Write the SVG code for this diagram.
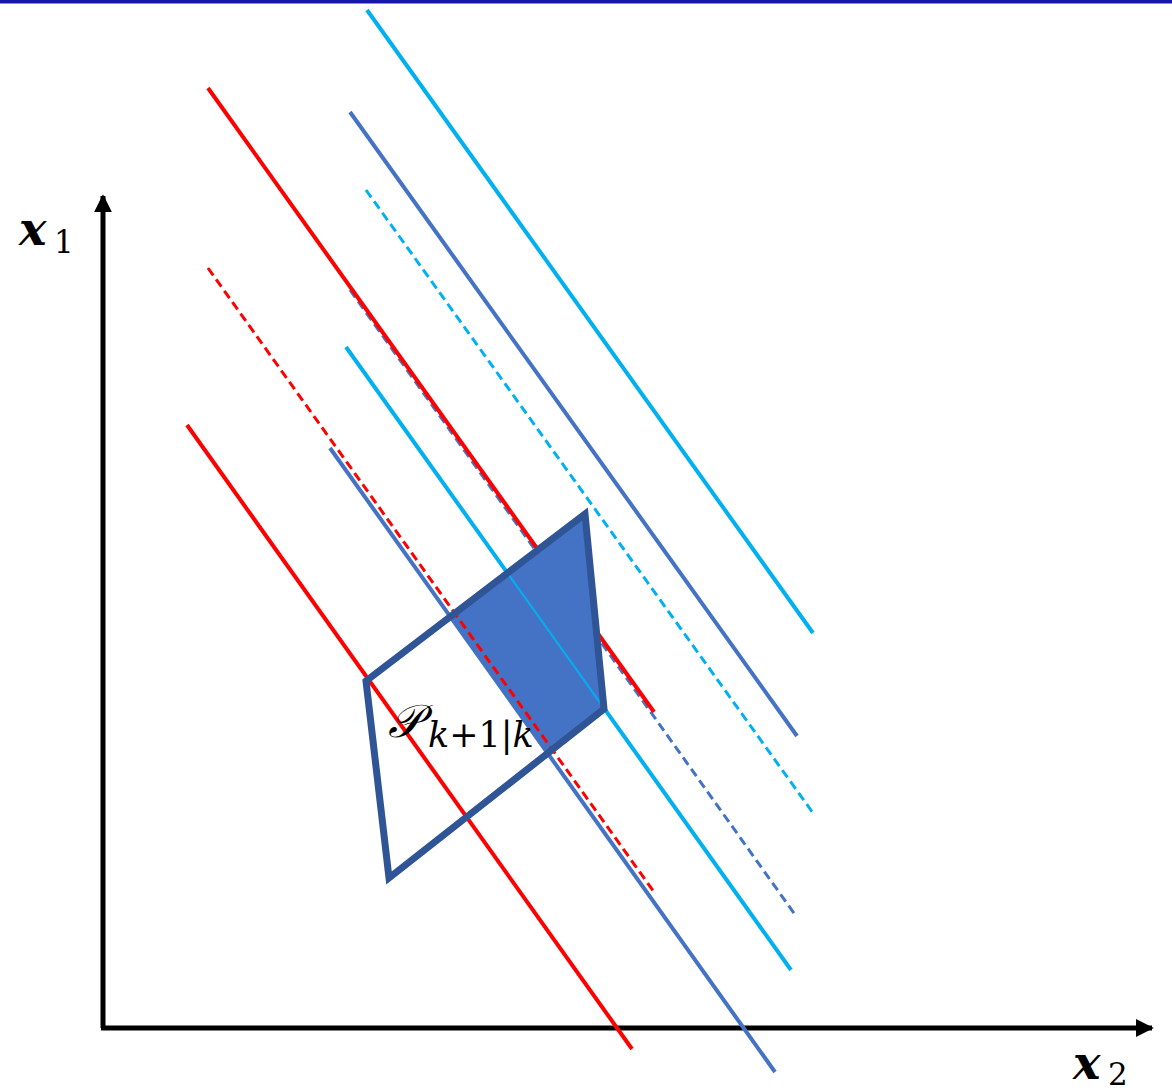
<svg xmlns="http://www.w3.org/2000/svg" width="1172" height="1090" viewBox="0 0 1172 1090">
<defs>
<style>
.ln{fill:none;stroke-width:4;stroke-linecap:butt}
.cy{stroke:#00B0F0}
.bl{stroke:#4472C4}
.rd{stroke:#FF0000}
.ds{stroke-width:3;stroke-dasharray:9 5}
.ax{fill:none;stroke:#000;stroke-width:5}
.m{font-family:"DejaVu Serif","Liberation Serif",serif;fill:#000}
</style>
<marker id="arr" viewBox="0 0 10 10" refX="9" refY="5" markerWidth="3.6" markerHeight="3.6" orient="auto" markerUnits="strokeWidth">
<path d="M0,0 L10,5 L0,10 z" fill="#000"/>
</marker>
</defs>
<rect width="1172" height="1090" fill="#fff"/>
<rect x="0" y="0" width="1172" height="3" fill="#1616A8"/>
<rect x="0" y="3" width="1172" height="1" fill="#8C8CD8"/>
<g id="connectors">
<g id="axes">
<line class="ax" x1="103" y1="1028" x2="103" y2="196" marker-end="url(#arr)"/>
<line class="ax" x1="101" y1="1028" x2="1152" y2="1028" marker-end="url(#arr)"/>
</g>
<line class="ln cy" x1="367" y1="10" x2="813" y2="633"/>
<line class="ln bl" x1="350" y1="112" x2="797" y2="736"/>
<line class="ln cy ds" x1="366" y1="190" x2="813" y2="813"/>
<line class="ln bl ds" x1="350" y1="290" x2="796" y2="916"/>
<line class="ln rd" x1="208" y1="88" x2="654" y2="712"/>
<line class="ln cy" x1="346" y1="347" x2="791" y2="970"/>
<line class="ln bl" x1="330" y1="448" x2="775" y2="1072"/>
<line class="ln rd" x1="187" y1="425" x2="632" y2="1049"/>
</g>
<g id="labels">
<text class="m" x="19" y="245" font-size="46" font-weight="bold" font-style="italic">x</text>
<text class="m" x="54" y="253" font-size="31">1</text>
<text class="m" x="1073" y="1079" font-size="46" font-weight="bold" font-style="italic">x</text>
<text class="m" x="1108" y="1085" font-size="31">2</text>
<text class="m" x="388" y="737" font-size="46" font-style="italic">𝒫</text>
<text class="m" x="428" y="747" font-size="35" font-style="italic">k<tspan font-style="normal">+1|</tspan>k</text>
</g>
<g id="polytope">
<polygon points="450.3,616.7 585,514 604,709 547.7,753.3" fill="#4472C4"/>
<line class="ln rd ds" x1="208" y1="268" x2="654" y2="892"/>
<line x1="507.5" y1="573.1" x2="604" y2="708.2" stroke="#00B0F0" stroke-width="2"/>
<polygon points="366,681 585,514 604,709 389,878" fill="none" stroke="#2F5597" stroke-width="7" stroke-linejoin="miter"/>
</g>
</svg>
